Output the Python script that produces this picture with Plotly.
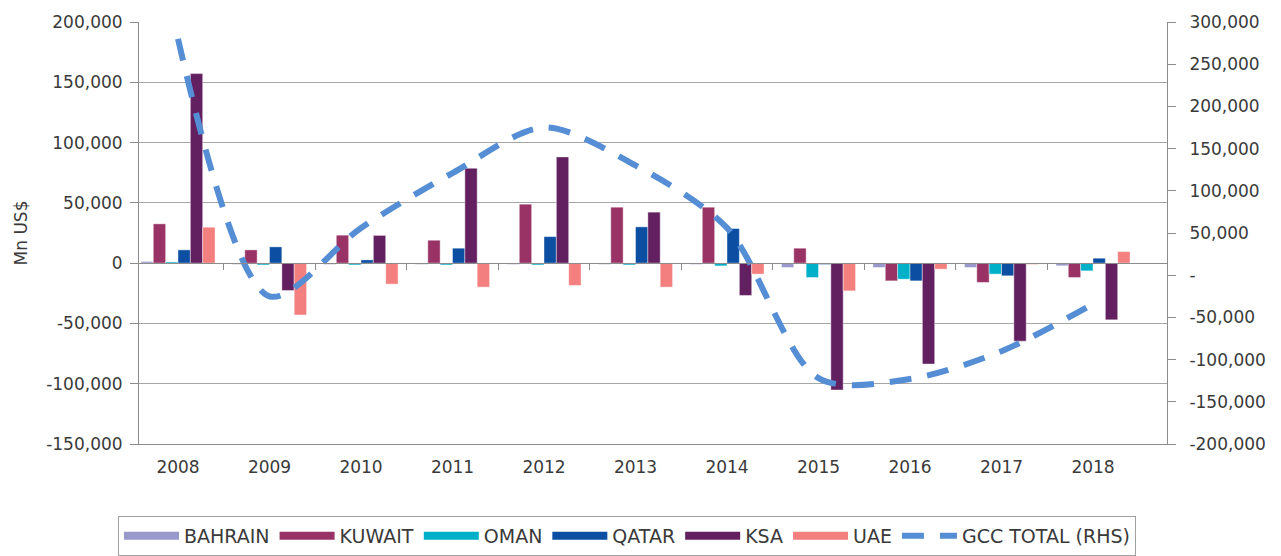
import plotly.graph_objects as go

years = [2008, 2009, 2010, 2011, 2012, 2013, 2014, 2015, 2016, 2017, 2018]
year_labels = [str(y) for y in years]

bahrain = [1400, -1000, -1000, -1000, -1000, -1000, -1000, -3600, -3600, -3600, -2200]
kuwait = [32600, 11000, 23200, 19000, 48900, 46400, 46400, 12400, -14700, -16000, -11900]
oman = [1000, -1500, -1500, -1500, -1500, -1500, -2300, -11900, -13300, -9100, -6400]
qatar = [11000, 13500, 2700, 12400, 22000, 30100, 28700, -1100, -14700, -10500, 4100]
ksa = [157200, -22700, 23000, 78700, 88100, 42300, -26800, -105200, -83700, -64700, -47000]
uae = [29800, -43000, -17400, -19900, -18500, -19900, -9100, -23000, -5000, -1000, 9600]
gcc_total = [280000, -25000, 56000, 121000, 175000, 130000, 56000, -122000, -123000, -90000, -34000]

series_names = ["BAHRAIN", "KUWAIT", "OMAN", "QATAR", "KSA", "UAE"]
series_values = [bahrain, kuwait, oman, qatar, ksa, uae]
series_colors = ["#9999CC", "#993366", "#00B0C8", "#0B4EA2", "#632060", "#F47F7F"]
line_name = "GCC TOTAL (RHS)"
line_color = "#558ED5"

left_range = [-150000, 200000]
right_range = [-200000, 300000]
left_ticks = list(range(-150000, 200001, 50000))
right_ticks = list(range(-200000, 300001, 50000))
left_ticktext = [f"{v:,}" for v in left_ticks]
right_ticktext = ["-" if v == 0 else f"{v:,}" for v in right_ticks]

x_range = [2008 - 39 / 91.5, 2008 - 39 / 91.5 + 1028 / 91.5]
boundaries = [y + 0.5 for y in years[:-1]]
zero_frac = (0 - left_range[0]) / (left_range[1] - left_range[0])

FONT = "DejaVu Sans"
TXT = "#3a3a3a"
GRID = "#A6A6A6"
AXIS = "#8C8C8C"

fig = go.Figure()

for name, vals, col in zip(series_names, series_values, series_colors):
    fig.add_trace(go.Bar(
        x=years, y=vals, name=name, offsetgroup=name,
        marker=dict(color=col, line=dict(color="rgba(255,255,255,0.7)", width=0.6)),
        xaxis="x", yaxis="y", showlegend=False, legendgroup=name,
    ))
    # legend swatch as a thick line
    fig.add_trace(go.Scatter(
        x=[None], y=[None], mode="lines", name=name, legendgroup=name,
        line=dict(color=col, width=8), xaxis="x", yaxis="y",
    ))

fig.add_trace(go.Scatter(
    x=years, y=gcc_total, name=line_name, mode="lines",
    line=dict(color=line_color, width=6, dash="22px,16px", shape="spline", smoothing=0.85),
    xaxis="x2", yaxis="y2",
))

fig.update_layout(
    width=1281, height=556,
    margin=dict(l=139, r=114, t=22, b=112),
    paper_bgcolor="white", plot_bgcolor="white",
    font=dict(family=FONT, size=17, color=TXT),
    barmode="group", bargap=0.19, bargroupgap=0,
    showlegend=True,
    legend=dict(
        orientation="h", xref="container", x=627 / 1281, xanchor="center",
        yref="container", y=1 - 516 / 556, yanchor="top",
        bordercolor="#A0A0A0", borderwidth=1,
        font=dict(family=FONT, size=19, color=TXT),
        itemwidth=55, traceorder="normal",
    ),
    xaxis=dict(
        range=x_range, tickmode="array", tickvals=years, ticktext=year_labels,
        ticks="", showgrid=False, zeroline=False, showline=True, linecolor=AXIS,
        linewidth=1, mirror=False, ticklabelstandoff=8,
        tickfont=dict(family=FONT, size=17, color=TXT),
    ),
    xaxis2=dict(
        range=x_range, overlaying="x", anchor="free", position=zero_frac,
        tickmode="array", tickvals=boundaries, ticks="outside", ticklen=6,
        tickcolor=AXIS, showticklabels=False, showgrid=False, zeroline=False,
        showline=True, linecolor=AXIS, linewidth=1,
    ),
    yaxis=dict(
        range=left_range, tickmode="array", tickvals=left_ticks, ticktext=left_ticktext,
        showgrid=True, gridcolor=GRID, gridwidth=1.3, zeroline=False,
        showline=True, linecolor=AXIS, linewidth=1, ticks="outside", ticklen=8,
        tickcolor=AXIS, ticklabelstandoff=4,
        title=dict(text="Mn US$", font=dict(family=FONT, size=17, color=TXT), standoff=14),
        tickfont=dict(family=FONT, size=17, color=TXT),
    ),
    yaxis2=dict(
        range=right_range, overlaying="y", side="right", anchor="x2",
        tickmode="array", tickvals=right_ticks, ticktext=right_ticktext,
        showgrid=False, zeroline=False, showline=True, linecolor=AXIS, linewidth=1,
        ticks="outside", ticklen=8, tickcolor=AXIS, ticklabelstandoff=10,
        tickfont=dict(family=FONT, size=17, color=TXT),
    ),
)

fig.write_html("out.html", config={"displayModeBar": False},
               post_script="document.body.style.margin='0';")
